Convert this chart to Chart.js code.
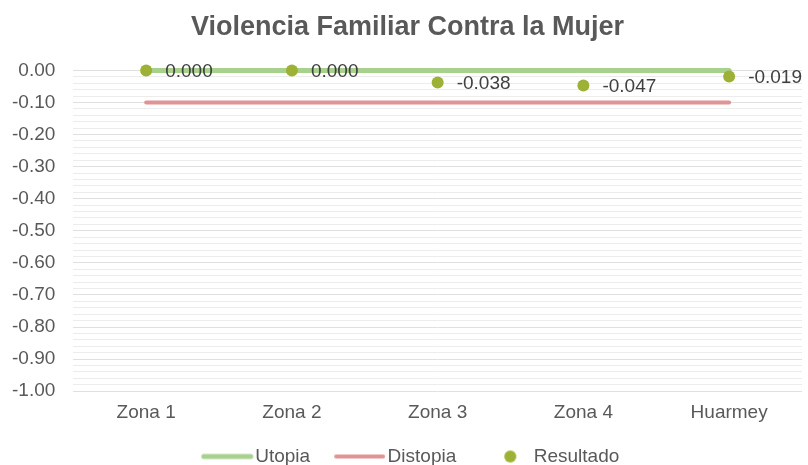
<!DOCTYPE html>
<html>
<head>
<meta charset="utf-8">
<style>
  body { margin: 0; background: #fff; overflow: hidden; }
  #wrap { width: 808px; height: 465px; }
</style>
<script src="https://cdn.jsdelivr.net/npm/chart.js"></script>
</head>
<body>
<div id="wrap"><canvas id="chart"></canvas></div>
<script>
var zonas = ['Zona 1', 'Zona 2', 'Zona 3', 'Zona 4', 'Huarmey'];
var utopia = [0, 0, 0, 0, 0];
var distopia = [-0.1, -0.1, -0.1, -0.1, -0.1];
var resultado = [0.000, 0.000, -0.038, -0.047, -0.019];
var serieNames = ['Utopia', 'Distopia', 'Resultado'];
var serieColors = ['#a9d18e', '#e09494', '#9cb135'];

var FONT = '"Liberation Sans", Arial, sans-serif';
var GREY = '#595959';

// legend swatch: a long line for the lines, a dot for the points
function swatch(kind, color) {
  var c = document.createElement('canvas');
  c.width = 100; c.height = 14;
  var g = c.getContext('2d');
  if (kind === 'dot') {
    g.fillStyle = color;
    g.beginPath(); g.arc(61, 7, 6, 0, Math.PI * 2); g.fill();
  } else {
    g.strokeStyle = color; g.lineWidth = kind; g.lineCap = 'round';
    g.beginPath(); g.moveTo(33, 7); g.lineTo(80, 7); g.stroke();
  }
  return c;
}
var swatches = [swatch(5, serieColors[0]), swatch(4, serieColors[1]), swatch('dot', serieColors[2])];

// value next to each Resultado point
var valueLabels = {
  id: 'valueLabels',
  afterDatasetsDraw: function(chart) {
    var meta = chart.getDatasetMeta(2);
    var ctx = chart.ctx;
    ctx.save();
    ctx.font = '19px ' + FONT;
    ctx.fillStyle = '#404040';
    ctx.textAlign = 'left';
    ctx.textBaseline = 'middle';
    meta.data.forEach(function(pt, i) {
      ctx.fillText(resultado[i].toFixed(3), pt.x + 19, pt.y + 1);
    });
    ctx.restore();
  }
};

function isMajor(v) {
  return Math.abs(Math.round(v * 10) - v * 10) < 1e-6;
}

var ctx = document.getElementById('chart').getContext('2d');
var myChart = new Chart(ctx, {
  type: 'line',
  data: {
    labels: zonas,
    datasets: [{
      label: serieNames[0],
      data: utopia,
      borderColor: serieColors[0],
      borderWidth: 5,
      borderCapStyle: 'round',
      pointRadius: 0,
      clip: false,
      order: 2
    }, {
      label: serieNames[1],
      data: distopia,
      borderColor: serieColors[1],
      borderWidth: 4,
      borderCapStyle: 'round',
      pointRadius: 0,
      clip: false,
      order: 1
    }, {
      label: serieNames[2],
      data: resultado,
      showLine: false,
      pointRadius: 6,
      pointBorderWidth: 0,
      pointBackgroundColor: serieColors[2],
      pointBorderColor: serieColors[2],
      clip: false,
      order: 0
    }]
  },
  plugins: [valueLabels],
  options: {
    responsive: true,
    maintainAspectRatio: false,
    animation: false,
    events: [],
    // legend sits lower than chart.js would put it by itself
    layout: { padding: { left: 12, right: 5, top: 0, bottom: -11 } },
    plugins: {
      title: {
        display: true,
        text: 'Violencia Familiar Contra la Mujer',
        color: GREY,
        font: { family: FONT, size: 27, weight: 'bold' },
        padding: { top: 11, bottom: 27 }
      },
      legend: {
        position: 'bottom',
        labels: {
          color: GREY,
          font: { family: FONT, size: 19 },
          usePointStyle: true,
          pointStyleWidth: 50,
          padding: 18,
          generateLabels: function(chart) {
            return chart.data.datasets.map(function(ds, i) {
              return {
                text: ds.label,
                pointStyle: swatches[i],
                fillStyle: serieColors[i],
                strokeStyle: serieColors[i],
                lineWidth: 0,
                fontColor: GREY,
                datasetIndex: i
              };
            });
          }
        }
      },
      tooltip: { enabled: false }
    },
    scales: {
      x: {
        offset: true,
        grid: { display: false, drawTicks: false },
        border: { display: false },
        ticks: { color: GREY, font: { family: FONT, size: 19 }, padding: 10, maxRotation: 0 },
        afterFit: function(s) { s.height -= 5; }
      },
      y: {
        min: -1,
        max: 0,
        border: { display: false },
        grid: {
          drawTicks: false,
          color: function(c) { return isMajor(c.tick.value) ? '#e0e0e0' : '#ececec'; }
        },
        ticks: {
          stepSize: 0.02,
          autoSkip: false,
          padding: 18,
          color: GREY,
          font: { family: FONT, size: 19 },
          callback: function(v) { return isMajor(v) ? v.toFixed(2) : ''; }
        },
        // chart.js reserves the tick padding twice; keep it once
        afterFit: function(s) { s.width -= 18; }
      }
    }
  }
});
</script>
</body>
</html>
